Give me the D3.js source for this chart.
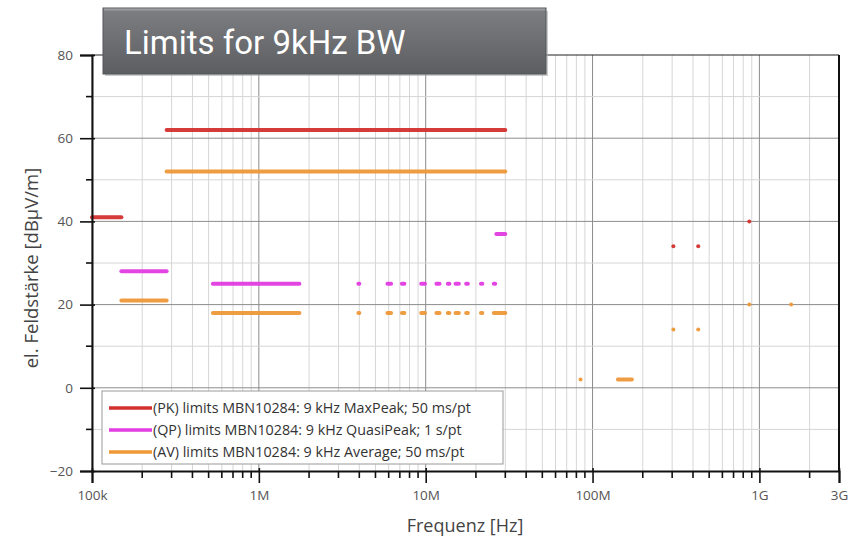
<!DOCTYPE html>
<html><head><meta charset="utf-8">
<script src="https://cdn.jsdelivr.net/npm/d3@7"></script>
<style>
html,body{margin:0;padding:0;background:#fff;}
svg{display:block;font-family:"Open Sans",sans-serif;}
</style></head>
<body><svg id="c" width="856" height="538"></svg>
<script>
// ---- data ----
const titleText = "Limits for 9kHz BW";
const xLabel = "Frequenz [Hz]";
const yLabel = "el. Feldstärke [dBµV/m]";
const xTickValues = [1e5, 1e6, 1e7, 1e8, 1e9, 3e9];
const xTickLabels = ["100k", "1M", "10M", "100M", "1G", "3G"];
const yTickValues = [-20, 0, 20, 40, 60, 80];
const seriesNames = [
  "(PK) limits MBN10284: 9 kHz MaxPeak; 50 ms/pt",
  "(QP) limits MBN10284: 9 kHz QuasiPeak; 1 s/pt",
  "(AV) limits MBN10284: 9 kHz Average; 50 ms/pt"
];
// segments: [startHz, endHz, level dBµV/m]
const pkSegments = [
  [1.0e5, 1.5e5, 41],
  [2.8e5, 3.0e7, 62],
  [3.05e8, 3.05e8, 34],
  [4.3e8, 4.3e8, 34],
  [8.7e8, 8.7e8, 40]
];
const qpSegments = [
  [1.5e5, 2.8e5, 28],
  [5.3e5, 1.75e6, 25],
  [3.95e6, 4.0e6, 25],
  [5.9e6, 6.2e6, 25],
  [7.2e6, 7.45e6, 25],
  [9.4e6, 9.9e6, 25],
  [11.6e6, 12.1e6, 25],
  [13.57e6, 13.87e6, 25],
  [15.1e6, 15.8e6, 25],
  [17.48e6, 17.9e6, 25],
  [21.45e6, 21.85e6, 25],
  [25.6e6, 26.1e6, 25],
  [26.5e6, 3.0e7, 37]
];
const avSegments = [
  [1.5e5, 2.8e5, 21],
  [2.8e5, 3.0e7, 52],
  [5.3e5, 1.75e6, 18],
  [3.95e6, 4.0e6, 18],
  [5.9e6, 6.2e6, 18],
  [7.2e6, 7.45e6, 18],
  [9.4e6, 9.9e6, 18],
  [11.6e6, 12.1e6, 18],
  [13.57e6, 13.87e6, 18],
  [15.1e6, 15.8e6, 18],
  [17.48e6, 17.9e6, 18],
  [21.45e6, 21.85e6, 18],
  [25.6e6, 3.0e7, 18],
  [8.47e7, 8.47e7, 2],
  [1.42e8, 1.72e8, 2],
  [3.05e8, 3.05e8, 14],
  [4.3e8, 4.3e8, 14],
  [8.7e8, 8.7e8, 20],
  [1.55e9, 1.55e9, 20]
];
const seriesColors = ["#d3312f", "#e23ce2", "#ef9838"];

// ---- layout ----
const svg = d3.select("#c");
const L = 92, R = 839, T = 55, B = 471;
const x = d3.scaleLog().domain([1e5, 3e9]).range([L, R]);
const y = d3.scaleLinear().domain([-20, 80]).range([B, T]);

const minorX = [];
for (let d = 1e5; d < 3e9; d *= 10) {
  for (let k = 2; k <= 9; k++) { const v = d * k; if (v < 3e9) minorX.push(v); }
}
const majorX = [1e5, 1e6, 1e7, 1e8, 1e9];

const grid = svg.append("g");
grid.selectAll("line.mx").data(minorX).join("line")
  .attr("x1", d => x(d)).attr("x2", d => x(d)).attr("y1", T).attr("y2", B)
  .attr("stroke", "#d6d6d6").attr("stroke-width", 1);
grid.selectAll("line.Mx").data(majorX).join("line")
  .attr("x1", d => x(d)).attr("x2", d => x(d)).attr("y1", T).attr("y2", B)
  .attr("stroke", "#8c8c8c").attr("stroke-width", 1);
const yMinor = d3.range(-10, 80, 20);
grid.selectAll("line.my").data(yMinor).join("line")
  .attr("x1", L).attr("x2", R).attr("y1", d => y(d)).attr("y2", d => y(d))
  .attr("stroke", "#d6d6d6").attr("stroke-width", 1);
grid.selectAll("line.My").data(yTickValues.slice(1, -1)).join("line")
  .attr("x1", L).attr("x2", R).attr("y1", d => y(d)).attr("y2", d => y(d))
  .attr("stroke", "#8c8c8c").attr("stroke-width", 1);

// frame
svg.append("line").attr("x1", L).attr("x2", R).attr("y1", T).attr("y2", T).attr("stroke", "#222").attr("stroke-width", 1.2);
svg.append("line").attr("x1", R).attr("x2", R).attr("y1", T).attr("y2", B).attr("stroke", "#111").attr("stroke-width", 2);

// series
const allSeries = [pkSegments, qpSegments, avSegments];
allSeries.forEach((segs, i) => {
  svg.append("g").selectAll("line").data(segs).join("line")
    .attr("x1", d => x(d[0])).attr("x2", d => x(d[1]))
    .attr("y1", d => y(d[2])).attr("y2", d => y(d[2]))
    .attr("stroke", seriesColors[i]).attr("stroke-width", 4)
    .attr("stroke-linecap", "round").attr("opacity", 0.95);
});

// axes
const xAxis = d3.axisBottom(x).tickValues(xTickValues)
  .tickFormat((d, i) => xTickLabels[i]).tickSize(12).tickPadding(7);
const gx = svg.append("g").attr("transform", `translate(0,${B})`).call(xAxis);
gx.select(".domain").attr("stroke", "#111").attr("stroke-width", 2);
gx.selectAll(".tick line").attr("stroke", "#111").attr("stroke-width", 1.6).attr("y1", -3);
gx.selectAll("text").attr("font-size", 13.5).attr("fill", "#555").attr("font-family", "Open Sans");
svg.append("g").selectAll("line").data(minorX).join("line")
  .attr("x1", d => x(d)).attr("x2", d => x(d)).attr("y1", B).attr("y2", B + 7)
  .attr("stroke", "#111").attr("stroke-width", 1.6);

const yAxis = d3.axisLeft(y).tickValues(yTickValues).tickSize(12).tickPadding(7);
const gy = svg.append("g").attr("transform", `translate(${L},0)`).call(yAxis);
gy.select(".domain").attr("stroke", "#111").attr("stroke-width", 2);
gy.selectAll(".tick line").attr("stroke", "#111").attr("stroke-width", 1.6).attr("x1", 3);
gy.selectAll("text").attr("font-size", 13.5).attr("fill", "#555").attr("font-family", "Open Sans");
svg.append("g").selectAll("line").data(yMinor).join("line")
  .attr("x1", L - 6).attr("x2", L).attr("y1", d => y(d)).attr("y2", d => y(d))
  .attr("stroke", "#111").attr("stroke-width", 1.6);

// axis labels
svg.append("text").attr("x", 465).attr("y", 532).attr("text-anchor", "middle")
  .attr("font-size", 18).attr("fill", "#444").text(xLabel);
svg.append("text").attr("transform", `translate(38,268) rotate(-90)`)
  .attr("text-anchor", "middle").attr("font-size", 18.5).attr("fill", "#444").text(yLabel);

// legend
const lg = svg.append("g");
lg.append("rect").attr("x", 102).attr("y", 391).attr("width", 401).attr("height", 73)
  .attr("fill", "#fff").attr("stroke", "#999").attr("stroke-width", 1);
seriesNames.forEach((n, i) => {
  const yy = 408 + i * 22;
  lg.append("line").attr("x1", 109).attr("x2", 152).attr("y1", yy).attr("y2", yy)
    .attr("stroke", seriesColors[i]).attr("stroke-width", 3.5);
  lg.append("text").attr("x", 153).attr("y", yy + 5).attr("font-size", 14.3)
    .attr("fill", "#333").text(n);
});

// title box
const defs = svg.append("defs");
const gr = defs.append("linearGradient").attr("id", "tg").attr("x1", 0).attr("x2", 0).attr("y1", 0).attr("y2", 1);
gr.append("stop").attr("offset", "0%").attr("stop-color", "#7d7f82");
gr.append("stop").attr("offset", "100%").attr("stop-color", "#5c5e61");
svg.append("rect").attr("x", 105).attr("y", 11).attr("width", 443).attr("height", 65).attr("fill", "#aaa").attr("opacity", 0.6);
svg.append("rect").attr("x", 103).attr("y", 8).attr("width", 443).attr("height", 66)
  .attr("fill", "url(#tg)").attr("stroke", "#55575a").attr("stroke-width", 1);
svg.append("line").attr("x1", 104).attr("x2", 545).attr("y1", 9.5).attr("y2", 9.5).attr("stroke", "#9a9c9f").attr("stroke-width", 2);
svg.append("text").attr("x", 124).attr("y", 54).attr("font-size", 33)
  .attr("font-family", "Roboto").attr("fill", "#fff").text(titleText);
</script>
</body></html>
